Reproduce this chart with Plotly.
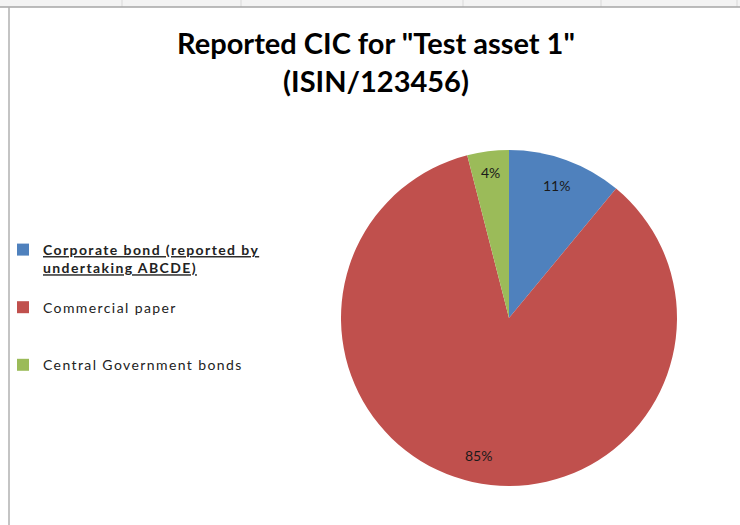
import math
import plotly.graph_objects as go

categories = [
    "Corporate bond (reported by undertaking ABCDE)",
    "Commercial paper",
    "Central Government bonds",
]
values = [11, 85, 4]
colors = ["#4F81BD", "#C0504D", "#9BBB59"]

W, H = 740, 525
FONT = "Lato"
LS = "letter-spacing:1.4px"

# legend labels (wrapping / spacing only)
legend_labels = [
    f'<span style="{LS}"><b><u>Corporate bond (reported by</u></b></span><br>'
    f'<span style="{LS}"><b><u>undertaking ABCDE)</u></b></span><br> ',
    f'<span style="{LS}">Commercial paper</span><br> <br> ',
    f'<span style="{LS}">Central Government bonds</span>',
]

# pie geometry (pixels)
CX, CY, R = 509, 318, 168

fig = go.Figure(
    go.Pie(
        labels=legend_labels,
        values=values,
        sort=False,
        direction="clockwise",
        rotation=0,
        marker=dict(colors=colors, line=dict(width=0)),
        textinfo="none",
        domain=dict(x=[(CX - R) / W, (CX + R) / W], y=[(H - CY - R) / H, (H - CY + R) / H]),
        hovertext=categories,
        hoverinfo="text+percent",
    )
)

# percentage labels placed along each slice's bisector
total = sum(values)
annotations = []
cum = 0
for v in values:
    mid = (cum + v / 2) / total
    cum += v
    ang = 2 * math.pi * mid
    k = 0.84 if v / total > 0.06 else 0.87
    px = CX + R * k * math.sin(ang)
    py = CY - R * k * math.cos(ang)
    annotations.append(dict(
        x=px / W, y=1 - py / H, xref="paper", yref="paper",
        text=f"{round(100 * v / total)}%", showarrow=False,
        font=dict(family=FONT, size=14, color="#1a1a1a"),
        xanchor="center", yanchor="middle",
    ))

shapes = []
grid = "#d9d9d9"
# spreadsheet strip at top
shapes.append(dict(type="rect", xref="paper", yref="paper", x0=0, x1=1,
                   y0=(H - 7) / H, y1=1, fillcolor="#f3f3f3", line=dict(width=0), layer="below"))
for gx in [122, 241, 463, 601, 737]:
    shapes.append(dict(type="line", xref="paper", yref="paper", x0=gx / W, x1=gx / W,
                       y0=(H - 7) / H, y1=1, line=dict(color=grid, width=1)))
shapes.append(dict(type="line", xref="paper", yref="paper", x0=0, x1=1,
                   y0=(H - 7) / H, y1=(H - 7) / H, line=dict(color="#a6a6a6", width=1.5)))
shapes.append(dict(type="line", xref="paper", yref="paper", x0=9 / W, x1=9 / W,
                   y0=0, y1=(H - 7) / H, line=dict(color="#b0b0b0", width=1.5)))

fig.update_layout(
    width=W,
    height=H,
    margin=dict(l=0, r=0, t=0, b=0),
    paper_bgcolor="white",
    plot_bgcolor="white",
    font=dict(family=FONT, color="#222222"),
    title=dict(
        text='Reported CIC for "Test asset 1"<br>(ISIN/123456)',
        x=376 / W,
        xanchor="center",
        y=(H - 54) / H,
        yanchor="top",
        font=dict(family=FONT, size=29, color="#000000", weight="bold"),
    ),
    legend=dict(
        x=3 / W,
        xanchor="left",
        y=(H - 234) / H,
        yanchor="top",
        valign="top",
        font=dict(family=FONT, size=14, color="#222222"),
        bgcolor="rgba(0,0,0,0)",
        itemclick=False,
        itemdoubleclick=False,
    ),
    annotations=annotations,
    shapes=shapes,
)

fig.write_html(
    "out.html",
    config={"displayModeBar": False},
    post_script="document.body.style.margin='0';",
)
